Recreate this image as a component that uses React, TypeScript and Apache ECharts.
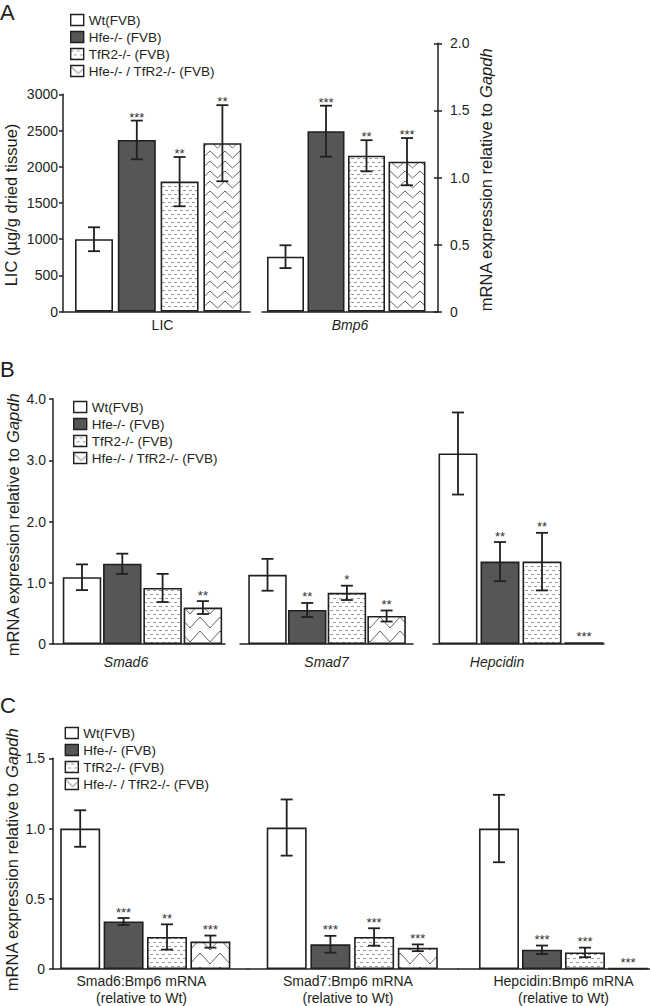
import React, { useEffect, useRef } from 'react';
import * as echarts from 'echarts';

// ---------- data ----------
const genotypes = ['Wt(FVB)', 'Hfe-/- (FVB)', 'TfR2-/- (FVB)', 'Hfe-/- / TfR2-/- (FVB)'];

// Panel A
const licTicks = [0, 500, 1000, 1500, 2000, 2500, 3000];
const licMean = [1000, 2370, 1795, 2325];
const licErr = [165, 267, 340, 525];
const licStars = ['', '***', '**', '**'];

const bmp6Ticks = [0, 0.5, 1.0, 1.5, 2.0];
const bmp6Mean = [0.41, 1.345, 1.162, 1.118];
const bmp6Err = [0.085, 0.19, 0.116, 0.176];
const bmp6Stars = ['', '***', '**', '***'];

// Panel B
const panelBTicks = [0, 1.0, 2.0, 3.0, 4.0];
const smad6Mean = [1.09, 1.31, 0.915, 0.595];
const smad6Err = [0.21, 0.165, 0.23, 0.105];
const smad6Stars = ['', '', '', '**'];
const smad7Mean = [1.13, 0.555, 0.835, 0.457];
const smad7Err = [0.26, 0.115, 0.117, 0.09];
const smad7Stars = ['', '**', '*', '**'];
const hepcMean = [3.11, 1.345, 1.345, 0.03];
const hepcErr = [0.67, 0.32, 0.47, 0];
const hepcStars = ['', '**', '**', '***'];

// Panel C
const panelCTicks = [0, 0.5, 1.0, 1.5];
const smad6RatioMean = [1.0, 0.338, 0.228, 0.195];
const smad6RatioErr = [0.13, 0.025, 0.09, 0.043];
const smad6RatioStars = ['', '***', '**', '***'];
const smad7RatioMean = [1.007, 0.176, 0.228, 0.151];
const smad7RatioErr = [0.2, 0.06, 0.062, 0.024];
const smad7RatioStars = ['', '***', '***', '***'];
const hepcRatioMean = [1.0, 0.137, 0.118, 0.005];
const hepcRatioErr = [0.24, 0.03, 0.034, 0];
const hepcRatioStars = ['', '***', '***', '***'];

const FONT = 'Liberation Sans, Arial, Helvetica, sans-serif';
const INK = '#231f20';

function makePattern(w: number, h: number, draw: (ctx: CanvasRenderingContext2D) => void) {
  const c = document.createElement('canvas');
  c.width = w;
  c.height = h;
  const ctx = c.getContext('2d') as CanvasRenderingContext2D;
  ctx.fillStyle = '#ffffff';
  ctx.fillRect(0, 0, w, h);
  draw(ctx);
  return { image: c.toDataURL(), repeat: 'repeat', imageWidth: w, imageHeight: h } as any;
}

const fmt1 = (v: number) => (v === 0 ? '0' : v.toFixed(1));
const fmtInt = (v: number) => String(Math.round(v));

export default function App() {
  const ref = useRef<HTMLDivElement>(null);

  useEffect(() => {
    if (!ref.current) return;
    const chart = echarts.init(ref.current, null, { renderer: 'svg' });

    const dashPat = makePattern(6, 8, (ctx) => {
      ctx.strokeStyle = '#9a9a9a';
      ctx.lineWidth = 1;
      ctx.beginPath();
      ctx.moveTo(0, 2.5);
      ctx.lineTo(3, 2.5);
      ctx.moveTo(3, 6.5);
      ctx.lineTo(6, 6.5);
      ctx.stroke();
    });
    const zigA = makePattern(15, 10, (ctx) => {
      ctx.strokeStyle = '#666666';
      ctx.lineWidth = 1;
      ctx.beginPath();
      ctx.moveTo(0, 1);
      ctx.lineTo(7.5, 8);
      ctx.lineTo(15, 1);
      ctx.stroke();
    });
    const zigBC = makePattern(20, 14, (ctx) => {
      ctx.strokeStyle = '#666666';
      ctx.lineWidth = 1;
      ctx.beginPath();
      ctx.moveTo(0, 1);
      ctx.lineTo(10, 12);
      ctx.lineTo(20, 1);
      ctx.stroke();
    });
    const fillsA = ['#ffffff', '#555658', dashPat, zigA];
    const fillsBC = ['#ffffff', '#555658', dashPat, zigBC];

    // layout of each group (pixels) — positions only, data come from arrays above
    const groups = [
      { label: 'LIC', italic: false, mean: licMean, err: licErr, stars: licStars,
        left: 63, width: 187, top: 94.3, height: 217.4, first: 94, sp: 42.8, barW: 38, fills: fillsA,
        nameGap: 5.5, shift: 6, lineHeight: 16, starOff: 6.5, yIdx: 0 },
      { label: 'Bmp6', italic: true, mean: bmp6Mean, err: bmp6Err, stars: bmp6Stars,
        left: 262, width: 176, top: 43.3, height: 268.4, first: 285.5, sp: 40.5, barW: 37, fills: fillsA,
        nameGap: 5.5, shift: 0, lineHeight: 16, starOff: 6.5, yIdx: 1 },
      { label: 'Smad6', italic: true, mean: smad6Mean, err: smad6Err, stars: smad6Stars,
        left: 53, width: 172, top: 399, height: 245, first: 82, sp: 40.3, barW: 38.5, fills: fillsBC,
        nameGap: 10, shift: -13, lineHeight: 16, starOff: 9, yIdx: 3 },
      { label: 'Smad7', italic: true, mean: smad7Mean, err: smad7Err, stars: smad7Stars,
        left: 240, width: 173, top: 399, height: 245, first: 267.5, sp: 39.7, barW: 38.5, fills: fillsBC,
        nameGap: 10, shift: 0, lineHeight: 16, starOff: 9, yIdx: 4 },
      { label: 'Hepcidin', italic: true, mean: hepcMean, err: hepcErr, stars: hepcStars,
        left: 433, width: 171, top: 399, height: 245, first: 458, sp: 42, barW: 39, fills: fillsBC,
        nameGap: 10, shift: -21.5, lineHeight: 16, starOff: 9, yIdx: 5 },
      { label: 'Smad6:Bmp6 mRNA\n(relative to Wt)', italic: false, mean: smad6RatioMean, err: smad6RatioErr, stars: smad6RatioStars,
        left: 53, width: 195, top: 758.3, height: 210.7, first: 80.2, sp: 43.4, barW: 40, fills: fillsBC,
        nameGap: 3, shift: -9, lineHeight: 17.3, starOff: 9, yIdx: 6 },
      { label: 'Smad7:Bmp6 mRNA\n(relative to Wt)', italic: false, mean: smad7RatioMean, err: smad7RatioErr, stars: smad7RatioStars,
        left: 248, width: 210, top: 758.3, height: 210.7, first: 286.7, sp: 43.7, barW: 40, fills: fillsBC,
        nameGap: 3, shift: -5, lineHeight: 17.3, starOff: 9, yIdx: 7 },
      { label: 'Hepcidin:Bmp6 mRNA\n(relative to Wt)', italic: false, mean: hepcRatioMean, err: hepcRatioErr, stars: hepcRatioStars,
        left: 458, width: 192, top: 758.3, height: 210.7, first: 499, sp: 43, barW: 40, fills: fillsBC,
        nameGap: 3, shift: 9.5, lineHeight: 17.3, starOff: 9, yIdx: 8 },
    ];

    const axisLine = { show: true, onZero: false, lineStyle: { color: INK, width: 1.5 } };
    const tick = { show: true, length: 4, lineStyle: { color: INK, width: 1.5 } };
    const label = (margin: number, fmt: (v: number) => string) => ({
      fontSize: 14, color: INK, fontFamily: FONT, margin, formatter: fmt,
    });
    const rng = (t: number[]) => ({ min: t[0], max: t[t.length - 1], interval: t[1] - t[0] });

    const yAxis: any[] = [
      { gridIndex: 0, type: 'value', ...rng(licTicks), position: 'left', axisLine, axisTick: tick,
        axisLabel: label(5, fmtInt), splitLine: { show: false } },
      { gridIndex: 1, type: 'value', ...rng(bmp6Ticks), position: 'right', axisLine, axisTick: tick,
        axisLabel: label(12, fmt1), splitLine: { show: false } },
      { gridIndex: 1, type: 'value', ...rng(bmp6Ticks), position: 'right', axisLine: { show: false, onZero: false },
        axisTick: { show: true, inside: true, length: 4, lineStyle: { color: INK, width: 1.5 } },
        axisLabel: { show: false }, splitLine: { show: false } },
      { gridIndex: 2, type: 'value', ...rng(panelBTicks), position: 'left', axisLine, axisTick: tick,
        axisLabel: label(7, fmt1), splitLine: { show: false } },
      { gridIndex: 3, type: 'value', ...rng(panelBTicks), show: false, axisLine: { onZero: false } },
      { gridIndex: 4, type: 'value', ...rng(panelBTicks), show: false, axisLine: { onZero: false } },
      { gridIndex: 5, type: 'value', ...rng(panelCTicks), position: 'left', axisLine, axisTick: tick,
        axisLabel: label(8, fmt1), splitLine: { show: false } },
      { gridIndex: 6, type: 'value', ...rng(panelCTicks), show: false, axisLine: { onZero: false } },
      { gridIndex: 7, type: 'value', ...rng(panelCTicks), show: false, axisLine: { onZero: false } },
    ];

    const grid = groups.map((g) => ({
      left: g.left, top: g.top, width: g.width, height: g.height, containLabel: false, outerBoundsMode: 'none',
    }));

    const xAxis = groups.map((g, gi) => ({
      type: 'value', gridIndex: gi,
      min: -(g.first - g.left) / g.sp,
      max: (g.left + g.width - g.first) / g.sp,
      axisLine, axisTick: { show: false }, axisLabel: { show: false }, splitLine: { show: false },
      name: g.label, nameLocation: 'middle', nameGap: g.nameGap,
      nameTextStyle: {
        fontSize: 14, fontFamily: FONT, color: INK, fontStyle: g.italic ? 'italic' : 'normal',
        lineHeight: g.lineHeight, align: 'center',
        padding: g.shift > 0 ? [0, 0, 0, 2 * g.shift] : [0, -2 * g.shift, 0, 0],
      },
    }));

    const series: any[] = [];
    groups.forEach((g, gi) => {
      genotypes.forEach((name, k) => {
        series.push({
          type: 'bar', name, xAxisIndex: gi, yAxisIndex: g.yIdx,
          data: [[k, g.mean[k]]], barWidth: g.barW, barGap: '-100%', silent: true,
          itemStyle: { color: g.fills[k], borderColor: INK, borderWidth: 1.6 },
        });
      });
      const stars = g.stars;
      const starOff = g.starOff;
      series.push({
        type: 'custom', name: 'err' + gi, xAxisIndex: gi, yAxisIndex: g.yIdx, z: 10, silent: true,
        encode: { x: 0, y: 1 },
        data: g.mean.map((m, k) => [k, m, g.err[k]]),
        renderItem: (params: any, api: any) => {
          const k = api.value(0);
          const m = api.value(1);
          const e = api.value(2);
          const top = api.coord([k, m + e]);
          const bot = api.coord([k, m - e]);
          const ls = { stroke: INK, lineWidth: 1.8 };
          const cap = 6;
          const children: any[] = [];
          if (e > 0) {
            children.push({ type: 'line', shape: { x1: top[0], y1: top[1], x2: bot[0], y2: bot[1] }, style: ls });
            children.push({ type: 'line', shape: { x1: top[0] - cap, y1: top[1], x2: top[0] + cap, y2: top[1] }, style: ls });
            children.push({ type: 'line', shape: { x1: bot[0] - cap, y1: bot[1], x2: bot[0] + cap, y2: bot[1] }, style: ls });
          }
          const s = stars[params.dataIndex];
          if (s) {
            children.push({
              type: 'text', x: top[0], y: top[1] - starOff + 3,
              style: { text: s, fontSize: 13, fontFamily: FONT, fill: '#333333', align: 'center', verticalAlign: 'middle' },
            });
          }
          return { type: 'group', children };
        },
      });
    });

    const legendBase = {
      orient: 'vertical', data: genotypes, icon: 'rect', itemWidth: 13, itemHeight: 11, itemGap: 3,
      selectedMode: false, padding: 0,
      textStyle: { fontSize: 13.5, fontFamily: FONT, color: INK, lineHeight: 14 },
      itemStyle: { borderColor: INK, borderWidth: 1.4 },
    };

    const titleStyle = (text: string, rich: boolean) => ({
      text,
      fontSize: 16.5, fontFamily: FONT, fill: INK, align: 'center', verticalAlign: 'middle',
      ...(rich ? {
        rich: {
          n: { fontSize: 16.5, fontFamily: FONT, fill: INK },
          i: { fontSize: 16.5, fontFamily: FONT, fill: INK, fontStyle: 'italic' },
        },
      } : {}),
    });
    const mrna = '{n|mRNA expression relative to }{i|Gapdh}';
    const letter = (t: string, y: number) => ({
      type: 'text', x: 0, y,
      style: { text: t, fontSize: 22, fontFamily: FONT, fill: INK, align: 'left', verticalAlign: 'middle' },
    });

    const graphic: any[] = [
      letter('A', 12),
      letter('B', 369),
      letter('C', 705),
      { type: 'text', x: 10.5, y: 205, rotation: Math.PI / 2, style: titleStyle('LIC (µg/g dried tissue)', false) },
      { type: 'text', x: 486, y: 180, rotation: Math.PI / 2, style: titleStyle(mrna, true) },
      { type: 'text', x: 12.5, y: 525, rotation: Math.PI / 2, style: titleStyle(mrna, true) },
      { type: 'text', x: 11.5, y: 860, rotation: Math.PI / 2, style: titleStyle(mrna, true) },
    ];

    chart.setOption({
      animation: false,
      backgroundColor: '#ffffff',
      textStyle: { fontFamily: FONT },
      grid,
      xAxis,
      yAxis,
      series,
      legend: [
        { ...legendBase, left: 70, top: 13 },
        { ...legendBase, left: 73, top: 400 },
        { ...legendBase, left: 64.6, top: 726 },
      ],
      graphic,
    } as any);

    return () => chart.dispose();
  }, []);

  return <div ref={ref} style={{ position: 'absolute', left: 0, top: 0, width: 650, height: 1006 }} />;
}
